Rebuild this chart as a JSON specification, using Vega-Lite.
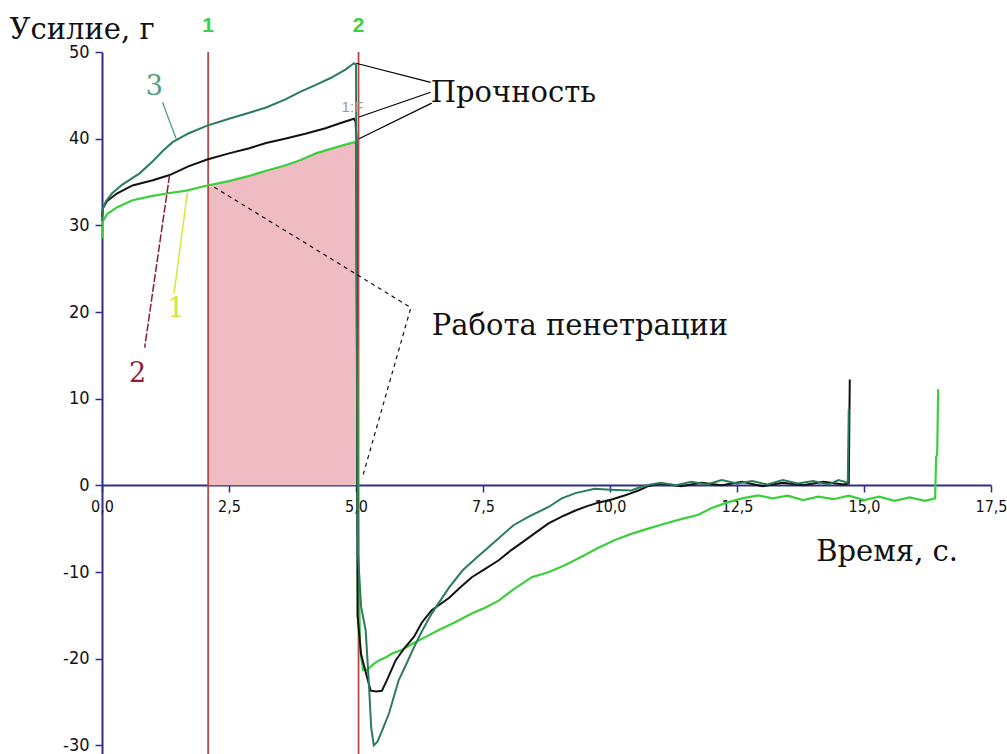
{
  "$schema": "https://vega.github.io/schema/vega-lite/v6.json",
  "width": 889,
  "height": 702,
  "autosize": {"type": "none"},
  "padding": {"left": 102, "top": 52, "right": 16, "bottom": 0},
  "background": "white",
  "config": {"view": {"stroke": null}, "axis": {"grid": false}},
  "datasets": {
    "c1": [
      {"t": 0.0, "v": 28.5}, {"t": 0.02, "v": 30.5}, {"t": 0.1, "v": 31.3}, {"t": 0.3, "v": 32.1},
      {"t": 0.6, "v": 32.9}, {"t": 1.0, "v": 33.4}, {"t": 1.3, "v": 33.7}, {"t": 1.66, "v": 34.0},
      {"t": 2.07, "v": 34.6}, {"t": 2.5, "v": 35.1}, {"t": 2.9, "v": 35.7}, {"t": 3.23, "v": 36.3},
      {"t": 3.6, "v": 36.9}, {"t": 3.9, "v": 37.5}, {"t": 4.21, "v": 38.3}, {"t": 4.6, "v": 39.0},
      {"t": 4.96, "v": 39.6}, {"t": 5.0, "v": 39.4}, {"t": 5.03, "v": 6}, {"t": 5.05, "v": -8},
      {"t": 5.08, "v": -19}, {"t": 5.14, "v": -21.3}, {"t": 5.22, "v": -21.3}, {"t": 5.35, "v": -20.6},
      {"t": 5.45, "v": -20.2}, {"t": 5.6, "v": -19.8}, {"t": 5.71, "v": -19.4}, {"t": 5.9, "v": -19.0},
      {"t": 6.14, "v": -18.2}, {"t": 6.4, "v": -17.4}, {"t": 6.63, "v": -16.7}, {"t": 6.95, "v": -15.8},
      {"t": 7.28, "v": -14.8}, {"t": 7.55, "v": -14.1}, {"t": 7.81, "v": -13.3}, {"t": 8.1, "v": -12.0},
      {"t": 8.46, "v": -10.6}, {"t": 8.8, "v": -10.0}, {"t": 9.12, "v": -9.2}, {"t": 9.45, "v": -8.2},
      {"t": 9.77, "v": -7.2}, {"t": 10.1, "v": -6.3}, {"t": 10.42, "v": -5.6}, {"t": 10.75, "v": -5.0},
      {"t": 11.09, "v": -4.4}, {"t": 11.4, "v": -3.9}, {"t": 11.74, "v": -3.4}, {"t": 11.99, "v": -2.65},
      {"t": 12.3, "v": -2.0}, {"t": 12.6, "v": -1.5}, {"t": 12.92, "v": -1.15}, {"t": 13.2, "v": -1.5},
      {"t": 13.5, "v": -1.2}, {"t": 13.8, "v": -1.7}, {"t": 14.1, "v": -1.3}, {"t": 14.4, "v": -1.6},
      {"t": 14.7, "v": -1.2}, {"t": 15.0, "v": -1.7}, {"t": 15.3, "v": -1.3}, {"t": 15.6, "v": -1.8},
      {"t": 15.9, "v": -1.4}, {"t": 16.2, "v": -1.8}, {"t": 16.4, "v": -1.5}, {"t": 16.42, "v": 3.3},
      {"t": 16.44, "v": 3.5}, {"t": 16.46, "v": 11.1}
    ],
    "c2": [
      {"t": 0.0, "v": 31.0}, {"t": 0.02, "v": 32.0}, {"t": 0.1, "v": 32.8}, {"t": 0.3, "v": 33.7},
      {"t": 0.6, "v": 34.6}, {"t": 1.0, "v": 35.2}, {"t": 1.33, "v": 35.8}, {"t": 1.7, "v": 36.8},
      {"t": 2.07, "v": 37.6}, {"t": 2.5, "v": 38.3}, {"t": 2.9, "v": 38.9}, {"t": 3.23, "v": 39.5},
      {"t": 3.6, "v": 40.0}, {"t": 4.02, "v": 40.6}, {"t": 4.4, "v": 41.2}, {"t": 4.7, "v": 41.8},
      {"t": 4.96, "v": 42.3}, {"t": 4.99, "v": 42.0}, {"t": 5.01, "v": 40.0}, {"t": 5.03, "v": -15},
      {"t": 5.1, "v": -19.5}, {"t": 5.22, "v": -22.2}, {"t": 5.29, "v": -23.7}, {"t": 5.4, "v": -23.8},
      {"t": 5.51, "v": -23.7}, {"t": 5.6, "v": -22.6}, {"t": 5.78, "v": -20.2}, {"t": 5.95, "v": -18.8},
      {"t": 6.14, "v": -17.5}, {"t": 6.3, "v": -15.8}, {"t": 6.49, "v": -14.4}, {"t": 6.83, "v": -13.0},
      {"t": 7.05, "v": -11.8}, {"t": 7.28, "v": -10.6}, {"t": 7.55, "v": -9.6}, {"t": 7.81, "v": -8.65},
      {"t": 8.05, "v": -7.5}, {"t": 8.34, "v": -6.3}, {"t": 8.55, "v": -5.4}, {"t": 8.79, "v": -4.4},
      {"t": 9.05, "v": -3.6}, {"t": 9.32, "v": -2.9}, {"t": 9.55, "v": -2.4}, {"t": 9.77, "v": -2.0},
      {"t": 10.05, "v": -1.6}, {"t": 10.3, "v": -1.15}, {"t": 10.42, "v": -0.9}, {"t": 10.56, "v": -0.6},
      {"t": 10.75, "v": -0.1}, {"t": 11.0, "v": 0.2}, {"t": 11.4, "v": -0.1}, {"t": 11.8, "v": 0.3},
      {"t": 12.2, "v": 0.0}, {"t": 12.6, "v": 0.4}, {"t": 13.0, "v": -0.1}, {"t": 13.4, "v": 0.3},
      {"t": 13.8, "v": 0.0}, {"t": 14.2, "v": 0.4}, {"t": 14.6, "v": 0.1}, {"t": 14.7, "v": 0.2},
      {"t": 14.72, "v": 12.2}
    ],
    "c3": [
      {"t": 0.0, "v": 30.5}, {"t": 0.02, "v": 32.0}, {"t": 0.08, "v": 32.8}, {"t": 0.2, "v": 33.7},
      {"t": 0.4, "v": 34.7}, {"t": 0.74, "v": 36.0}, {"t": 1.0, "v": 37.4}, {"t": 1.2, "v": 38.6},
      {"t": 1.39, "v": 39.6}, {"t": 1.7, "v": 40.6}, {"t": 2.07, "v": 41.5}, {"t": 2.5, "v": 42.3},
      {"t": 2.9, "v": 43.0}, {"t": 3.23, "v": 43.6}, {"t": 3.6, "v": 44.5}, {"t": 3.9, "v": 45.4},
      {"t": 4.21, "v": 46.2}, {"t": 4.5, "v": 47.0}, {"t": 4.8, "v": 48.0}, {"t": 4.96, "v": 48.7},
      {"t": 5.0, "v": 48.5}, {"t": 5.02, "v": 10}, {"t": 5.04, "v": -8}, {"t": 5.1, "v": -14},
      {"t": 5.19, "v": -16.7}, {"t": 5.25, "v": -22.5}, {"t": 5.3, "v": -28.0}, {"t": 5.35, "v": -30.0},
      {"t": 5.42, "v": -29.6}, {"t": 5.5, "v": -28.5}, {"t": 5.65, "v": -26.3}, {"t": 5.84, "v": -22.5},
      {"t": 6.0, "v": -20.5}, {"t": 6.14, "v": -18.7}, {"t": 6.3, "v": -16.8}, {"t": 6.49, "v": -14.8},
      {"t": 6.83, "v": -11.8}, {"t": 7.1, "v": -9.8}, {"t": 7.4, "v": -8.2}, {"t": 7.81, "v": -6.1},
      {"t": 8.1, "v": -4.6}, {"t": 8.4, "v": -3.6}, {"t": 8.79, "v": -2.5}, {"t": 9.05, "v": -1.5},
      {"t": 9.32, "v": -0.9}, {"t": 9.7, "v": -0.4}, {"t": 10.0, "v": -0.5}, {"t": 10.42, "v": -0.6},
      {"t": 10.6, "v": -0.2}, {"t": 10.8, "v": 0.1}, {"t": 11.0, "v": 0.3}, {"t": 11.3, "v": 0.0},
      {"t": 11.6, "v": 0.4}, {"t": 11.9, "v": 0.1}, {"t": 12.2, "v": 0.6}, {"t": 12.5, "v": 0.2},
      {"t": 12.8, "v": 0.5}, {"t": 13.1, "v": 0.1}, {"t": 13.4, "v": 0.6}, {"t": 13.7, "v": 0.2},
      {"t": 14.0, "v": 0.5}, {"t": 14.3, "v": 0.1}, {"t": 14.5, "v": 0.6}, {"t": 14.68, "v": 0.3},
      {"t": 14.7, "v": 8.8}
    ],
    "work": [
      {"t": 2.09, "v": 34.6}, {"t": 2.5, "v": 35.1}, {"t": 2.9, "v": 35.7}, {"t": 3.23, "v": 36.3},
      {"t": 3.6, "v": 36.9}, {"t": 3.9, "v": 37.5}, {"t": 4.21, "v": 38.3}, {"t": 4.6, "v": 39.0},
      {"t": 4.96, "v": 39.6}, {"t": 5.05, "v": 39.6}
    ],
    "vlines": [
      {"id": "1", "t": 2.09, "v": 50}, {"id": "1", "t": 2.09, "v": -31},
      {"id": "2", "t": 5.05, "v": 50}, {"id": "2", "t": 5.05, "v": -31}
    ],
    "leaders": [
      {"id": "p1", "i": 0, "t": 5.0, "v": 48.7}, {"id": "p1", "i": 1, "t": 6.47, "v": 46.5},
      {"id": "p2", "i": 0, "t": 5.06, "v": 42.5}, {"id": "p2", "i": 1, "t": 6.47, "v": 45.35},
      {"id": "p3", "i": 0, "t": 5.06, "v": 40.0}, {"id": "p3", "i": 1, "t": 6.49, "v": 44.1},
      {"id": "l3", "i": 0, "t": 1.19, "v": 44.2}, {"id": "l3", "i": 1, "t": 1.46, "v": 40.0},
      {"id": "l2", "i": 0, "t": 1.33, "v": 35.8}, {"id": "l2", "i": 1, "t": 0.84, "v": 15.9},
      {"id": "l1", "i": 0, "t": 1.68, "v": 33.8}, {"id": "l1", "i": 1, "t": 1.42, "v": 22.2},
      {"id": "rab", "i": 0, "t": 2.21, "v": 34.4}, {"id": "rab", "i": 1, "t": 6.08, "v": 20.5},
      {"id": "rab", "i": 2, "t": 5.12, "v": 0.8}
    ],
    "titles": [
      {"label": "Усилие, г", "t": -1.82, "v": 51.5},
      {"label": "Прочность", "t": 6.47, "v": 44.2},
      {"label": "Работа пенетрации", "t": 6.49, "v": 17.3},
      {"label": "Время, с.", "t": 14.06, "v": -8.77}
    ],
    "curvelabels": [
      {"label": "3", "t": 1.03, "v": 45.0},
      {"label": "2", "t": 0.70, "v": 11.9},
      {"label": "1", "t": 1.46, "v": 19.4}
    ],
    "markers": [
      {"label": "1", "t": 2.09, "v": 52.3},
      {"label": "2", "t": 5.05, "v": 52.3}
    ],
    "note": [
      {"label": "1:F", "t": 4.93, "v": 43.6}
    ]
  },
  "encoding": {
    "x": {
      "field": "t", "type": "quantitative",
      "scale": {"domain": [0, 17.5], "nice": false, "zero": false},
      "axis": {
        "orient": "bottom", "offset": -269, "title": null,
        "values": [0, 2.5, 5, 7.5, 10, 12.5, 15, 17.5],
        "labelExpr": "replace(format(datum.value, '.1f'), '.', ',')",
        "domainColor": "#2e2e8c", "domainWidth": 2,
        "tickColor": "#2e2e8c", "tickWidth": 1.5, "tickSize": 7,
        "labelFont": "Liberation Sans Narrow, DejaVu Sans Condensed, Arial Narrow, sans-serif",
        "labelFontSize": 16, "labelColor": "#111111", "labelPadding": 6,
        "labelFlush": false, "labelOverlap": false
      }
    },
    "y": {
      "field": "v", "type": "quantitative",
      "scale": {"domain": [-31, 50], "nice": false, "zero": false},
      "axis": {
        "title": null,
        "values": [50, 40, 30, 20, 10, 0, -10, -20, -30],
        "labelExpr": "(datum.value < 0 ? '-' : '') + abs(datum.value)",
        "domainColor": "#2e2e8c", "domainWidth": 2,
        "tickColor": "#2e2e8c", "tickWidth": 1.5, "tickSize": 7,
        "labelFont": "Liberation Sans Narrow, DejaVu Sans Condensed, Arial Narrow, sans-serif",
        "labelFontSize": 18, "labelColor": "#111111", "labelPadding": 6,
        "labelFlush": false, "labelOverlap": false
      }
    }
  },
  "layer": [
    {
      "data": {"name": "work"},
      "mark": {"type": "area", "color": "#efbcc3", "opacity": 1},
      "encoding": {"y2": {"datum": 0}}
    },
    {
      "data": {"name": "vlines"},
      "mark": {"type": "line", "color": "#b44a4e", "strokeWidth": 1.8},
      "encoding": {"detail": {"field": "id"}}
    },
    {
      "data": {"name": "c1"},
      "mark": {"type": "line", "color": "#3ccf3c", "strokeWidth": 2.2},
      "encoding": {}
    },
    {
      "data": {"name": "c2"},
      "mark": {"type": "line", "color": "#111111", "strokeWidth": 2},
      "encoding": {}
    },
    {
      "data": {"name": "c3"},
      "mark": {"type": "line", "color": "#2a7c5b", "strokeWidth": 2},
      "encoding": {}
    },
    {
      "data": {"name": "leaders"},
      "transform": [{"filter": "datum.id === 'p1' || datum.id === 'p2' || datum.id === 'p3'"}],
      "mark": {"type": "line", "color": "#000000", "strokeWidth": 1.2},
      "encoding": {"detail": {"field": "id"}, "order": {"field": "i"}}
    },
    {
      "data": {"name": "leaders"},
      "transform": [{"filter": "datum.id === 'l3'"}],
      "mark": {"type": "line", "color": "#4e9f78", "strokeWidth": 1.3},
      "encoding": {"order": {"field": "i"}}
    },
    {
      "data": {"name": "leaders"},
      "transform": [{"filter": "datum.id === 'l2'"}],
      "mark": {"type": "line", "color": "#8c1d35", "strokeWidth": 1.5, "strokeDash": [8, 2]},
      "encoding": {"order": {"field": "i"}}
    },
    {
      "data": {"name": "leaders"},
      "transform": [{"filter": "datum.id === 'l1'"}],
      "mark": {"type": "line", "color": "#d6e63e", "strokeWidth": 1.5},
      "encoding": {"order": {"field": "i"}}
    },
    {
      "data": {"name": "leaders"},
      "transform": [{"filter": "datum.id === 'rab'"}],
      "mark": {"type": "line", "color": "#111111", "strokeWidth": 1.2, "strokeDash": [4, 4]},
      "encoding": {"order": {"field": "i"}}
    },
    {
      "data": {"name": "titles"},
      "mark": {"type": "text", "font": "DejaVu Serif", "fontSize": 29, "align": "left", "baseline": "alphabetic", "color": "#111111"},
      "encoding": {"text": {"field": "label"}}
    },
    {
      "data": {"name": "curvelabels"},
      "mark": {"type": "text", "font": "DejaVu Serif", "fontSize": 27, "align": "center", "baseline": "alphabetic"},
      "encoding": {
        "text": {"field": "label"},
        "color": {"field": "label", "type": "nominal", "legend": null,
          "scale": {"domain": ["3", "2", "1"], "range": ["#4e9f78", "#8c1d35", "#d2e243"]}}
      }
    },
    {
      "data": {"name": "markers"},
      "mark": {"type": "text", "font": "Liberation Sans", "fontWeight": "bold", "fontSize": 21, "align": "center", "baseline": "alphabetic", "color": "#3ccf4c"},
      "encoding": {"text": {"field": "label"}}
    },
    {
      "data": {"name": "note"},
      "mark": {"type": "text", "font": "Liberation Sans", "fontSize": 15, "align": "center", "baseline": "middle", "color": "#9a9a9a"},
      "encoding": {"text": {"field": "label"}}
    }
  ]
}
